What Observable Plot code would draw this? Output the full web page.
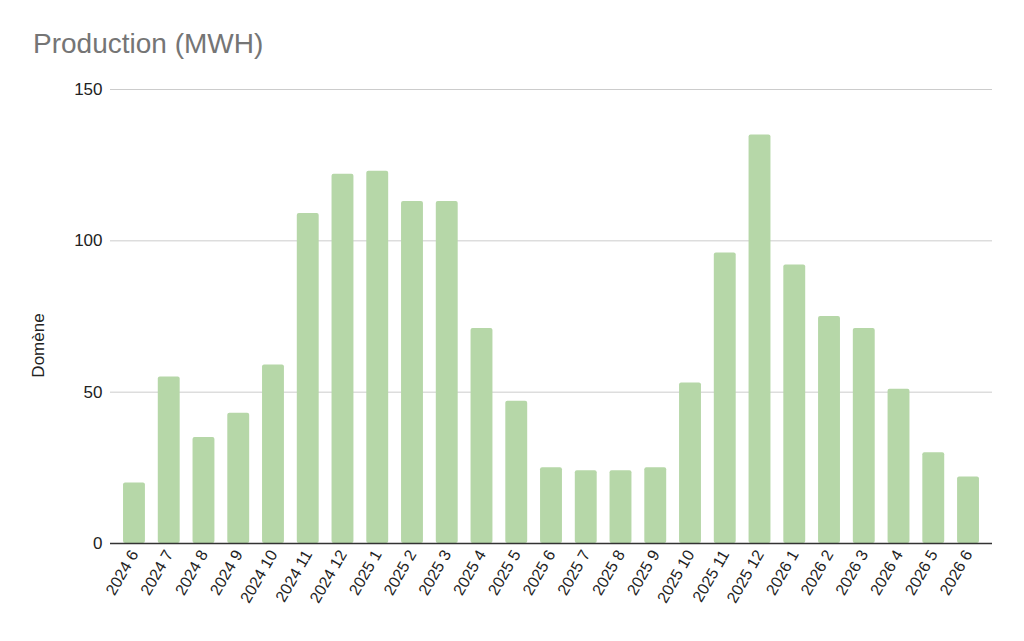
<!DOCTYPE html>
<html><head><meta charset="utf-8">
<script src="https://cdn.jsdelivr.net/npm/d3@7"></script>
<script src="https://cdn.jsdelivr.net/npm/@observablehq/plot@0.6"></script>
<style>
body{margin:0;background:#fff;font-family:"Liberation Sans",Arial,sans-serif;}
#title{height:70px;position:relative;}
#title span{position:absolute;left:33px;top:28px;font-size:28px;color:#757575;}
</style></head><body>
<div id="title"><span>Production (MWH)</span></div>
<div id="chart"></div>
<script>
const months = ["2024 6","2024 7","2024 8","2024 9","2024 10","2024 11","2024 12","2025 1","2025 2","2025 3","2025 4","2025 5","2025 6","2025 7","2025 8","2025 9","2025 10","2025 11","2025 12","2026 1","2026 2","2026 3","2026 4","2026 5","2026 6"];
const values = [20,55,35,43,59,109,122,123,113,113,71,47,25,24,24,25,53,96,135,92,75,71,51,30,22];
const yTicks = [0,50,100,150];
const data = months.map((m,i)=>({month:m, value:values[i]}));

const chart = Plot.plot({
  width: 1024, height: 571,
  marginTop: 19, marginBottom: 98, marginLeft: 110, marginRight: 32,
  style: {fontFamily: '"Liberation Sans", Arial, sans-serif', fontSize: "16px", color: "#222"},
  x: {domain: months, paddingInner: 0.37, paddingOuter: 0.375, round: false, label: null, tickSize: 0, tickRotate: -60, tickPadding: 8},
  y: {domain: [0,150], ticks: yTicks, label: "Domène", labelAnchor: "center", labelArrow: "none", labelOffset: 79, tickSize: 0, tickPadding: 8},
  marks: [
    Plot.gridY(yTicks.filter(t=>t>0), {stroke: "#cccccc", strokeOpacity: 1}),
    Plot.barY(data, {x: "month", y: "value", fill: "#b6d7a8", rx: 2}),
    Plot.ruleY([0], {stroke: "#333", strokeWidth: 1.5})
  ]
});
document.getElementById("chart").appendChild(chart);
chart.querySelectorAll('[aria-label="x-axis tick label"] text').forEach(t=>{t.style.fontSize="16px";});
chart.querySelectorAll('[aria-label="y-axis tick label"] text').forEach(t=>{t.style.fontSize="17px";});
const ylab = chart.querySelector('[aria-label="y-axis label"] text');
if (ylab) {
  ylab.style.fontSize = "17px";
  const g = ylab.closest('g');
  g.setAttribute("transform", (g.getAttribute("transform")||"") + " translate(0,29)");
}
</script>
</body></html>
